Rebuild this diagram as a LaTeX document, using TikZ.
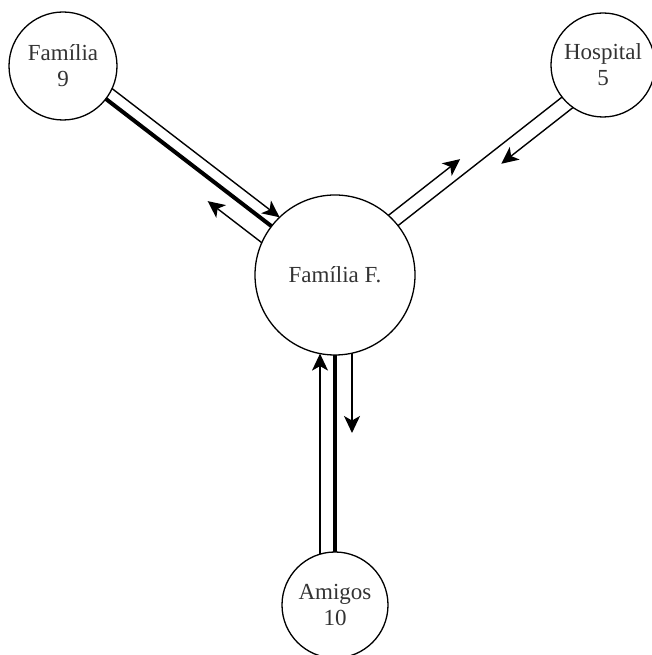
\documentclass[tikz,border=0pt]{standalone}
\usepackage{fontspec}
\setmainfont{Liberation Serif}
\usetikzlibrary{calc,arrows.meta}

% point on the way from #2 to #3, #4 along the axis, shifted #5 to the left of it
\newcommand\rimpoint[5]{%
  \coordinate (tmp) at ($(#2)!#4!(#3)$);
  \coordinate (#1) at ($(tmp)!#5!90:(#3)$);}

\begin{document}
\begin{tikzpicture}[x=1pt,y=1pt,
  party/.style={circle,draw,line width=1.3pt,inner sep=0pt,outer sep=0pt,
    minimum size=#1,align=center,text=black!80,font=\fontsize{23}{26}\selectfont},
  bond/.style={line width=1.4pt},
  strongbond/.style={line width=4pt},
  flow/.style={line width=1.4pt,-{Stealth[length=17pt,width=16pt,inset=4.5pt]}},
]
\useasboundingbox (0,0) rectangle (651,655);

% households and institutions
\node[party=108pt] (fam9) at (63,589) {Família\\9};
\node[party=104pt] (hosp) at (603,590) {Hospital\\5};
\node[party=160pt] (famF) at (335,380) {Família F.};
\node[party=106pt] (amig) at (335,50) {Amigos\\10};

% Família 9 -- Família F.
\rimpoint{a1}{fam9}{famF}{54pt}{0pt}
\rimpoint{a2}{famF}{fam9}{80pt}{0pt}
\draw[strongbond] (a1) -- (a2);
\rimpoint{a3}{fam9}{famF}{52.6pt}{12pt}
\rimpoint{a4}{famF}{fam9}{79.1pt}{-12pt}
\draw[flow] (a3) -- (a4);
\rimpoint{a5}{famF}{fam9}{77.7pt}{19pt}
\rimpoint{a6}{famF}{fam9}{146pt}{19pt}
\draw[flow] (a5) -- (a6);

% Família F. -- Hospital
\rimpoint{h1}{famF}{hosp}{80pt}{0pt}
\rimpoint{h2}{hosp}{famF}{52pt}{0pt}
\draw[bond] (h1) -- (h2);
\rimpoint{h3}{famF}{hosp}{78.8pt}{14pt}
\rimpoint{h4}{famF}{hosp}{170pt}{14pt}
\draw[flow] (h3) -- (h4);
\rimpoint{h5}{hosp}{famF}{49.8pt}{15pt}
\rimpoint{h6}{hosp}{famF}{141pt}{15pt}
\draw[flow] (h5) -- (h6);

% Família F. -- Amigos
\rimpoint{m1}{famF}{amig}{80pt}{0pt}
\rimpoint{m2}{amig}{famF}{53pt}{0pt}
\draw[strongbond] (m1) -- (m2);
\rimpoint{m3}{famF}{amig}{78.2pt}{17pt}
\rimpoint{m4}{famF}{amig}{158pt}{17pt}
\draw[flow] (m3) -- (m4);
\rimpoint{m5}{amig}{famF}{50.8pt}{15pt}
\rimpoint{m6}{famF}{amig}{78.6pt}{-15pt}
\draw[flow] (m5) -- (m6);
\end{tikzpicture}
\end{document}
